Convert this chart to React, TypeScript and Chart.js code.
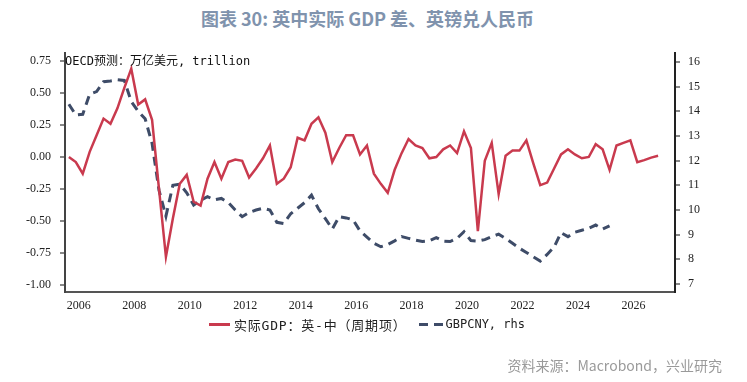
import React, { useEffect, useRef } from "react";
import { Chart, registerables } from "chart.js";

Chart.register(...registerables);

// First observation quarter of both series
const FIRST_YEAR = 2005;
const FIRST_QUARTER = 3;

// Real GDP gap UK - China (cyclical component), quarterly, left axis
const gdpGap: number[] = [
  0.0, -0.04, // 2005 Q3-Q4
  -0.13, 0.04, 0.17, 0.3, // 2006
  0.26, 0.38, 0.54, 0.69, // 2007
  0.41, 0.45, 0.29, -0.25, // 2008
  -0.78, -0.48, -0.21, -0.14, // 2009
  -0.35, -0.38, -0.17, -0.04, // 2010
  -0.17, -0.04, -0.02, -0.03, // 2011
  -0.16, -0.09, -0.01, 0.09, // 2012
  -0.21, -0.17, -0.08, 0.15, // 2013
  0.13, 0.26, 0.31, 0.19, // 2014
  -0.04, 0.07, 0.17, 0.17, // 2015
  0.02, 0.09, -0.13, -0.21, // 2016
  -0.28, -0.1, 0.03, 0.14, // 2017
  0.09, 0.07, -0.01, 0.0, // 2018
  0.06, 0.09, 0.03, 0.2, // 2019
  0.07, -0.58, -0.03, 0.11, // 2020
  -0.29, 0.01, 0.05, 0.05, // 2021
  0.13, -0.05, -0.22, -0.2, // 2022
  -0.09, 0.02, 0.06, 0.02, // 2023
  -0.01, 0.0, 0.1, 0.06, // 2024
  -0.1, 0.09, 0.11, 0.13, // 2025
  -0.04, -0.025, -0.005, 0.01, // 2026
];

// GBPCNY, quarterly, right axis
const gbpcny: number[] = [
  14.29, 13.85, // 2005 Q3-Q4
  13.88, 14.7, 14.8, 15.2, // 2006
  15.23, 15.28, 15.25, 14.4, // 2007
  14.0, 13.7, 12.7, 10.8, // 2008
  9.75, 11.0, 11.05, 10.7, // 2009
  10.2, 10.4, 10.54, 10.41, // 2010
  10.47, 10.3, 10.0, 9.73, // 2011
  9.9, 10.0, 10.07, 10.0, // 2012
  9.5, 9.45, 9.85, 10.07, // 2013
  10.3, 10.6, 10.05, 9.65, // 2014
  9.23, 9.73, 9.68, 9.6, // 2015
  9.15, 8.9, 8.65, 8.51, // 2016
  8.6, 8.75, 8.92, 8.85, // 2017
  8.78, 8.72, 8.75, 8.88, // 2018
  8.74, 8.72, 8.85, 9.12, // 2019
  8.76, 8.74, 8.8, 8.92, // 2020
  9.02, 8.85, 8.65, 8.45, // 2021
  8.28, 8.1, 7.93, 8.2, // 2022
  8.5, 9.08, 8.92, 9.1, // 2023
  9.18, 9.26, 9.39, 9.23, // 2024
  9.36, // 2025 Q1
];

const xTicks: number[] = [2006, 2008, 2010, 2012, 2014, 2016, 2018, 2020, 2022, 2024, 2026];
const leftTicks: number[] = [-1, -0.75, -0.5, -0.25, 0, 0.25, 0.5, 0.75];
const rightTicks: number[] = [7, 8, 9, 10, 11, 12, 13, 14, 15, 16];

const TITLE = "图表 30: 英中实际 GDP 差、英镑兑人民币";
const NOTE = "OECD预测：万亿美元, trillion";
const LEGEND_GDP = "实际GDP：英-中（周期项）";
const LEGEND_FX = "GBPCNY, rhs";
const SOURCE = "资料来源：Macrobond，兴业研究";

const quarterX = (i: number) => {
  const q = FIRST_QUARTER - 1 + i;
  return FIRST_YEAR + Math.floor(q / 4) + (q % 4) * 0.25 + 0.14;
};

const RED = "#c93a4e";
const NAVY = "#3e4c68";
const MONO = '"DejaVu Sans Mono", "Noto Sans CJK SC", monospace';

export default function App() {
  const ref = useRef<HTMLCanvasElement | null>(null);

  useEffect(() => {
    if (!ref.current) return;
    const chart = new Chart(ref.current, {
      type: "line",
      data: {
        datasets: [
          {
            label: LEGEND_GDP,
            data: gdpGap.map((v, i) => ({ x: quarterX(i), y: v })),
            borderColor: RED,
            borderWidth: 2.5,
            pointRadius: 0,
            tension: 0,
            yAxisID: "y",
          },
          {
            label: LEGEND_FX,
            data: gbpcny.map((v, i) => ({ x: quarterX(i), y: v })),
            borderColor: NAVY,
            borderWidth: 3,
            borderDash: [9, 6],
            pointRadius: 0,
            tension: 0,
            yAxisID: "y1",
          },
        ],
      },
      options: {
        responsive: false,
        animation: false,
        devicePixelRatio: 1,
        layout: { padding: { top: 53, left: 0, right: 0, bottom: 0 } },
        plugins: { legend: { display: false }, title: { display: false }, tooltip: { enabled: false } },
        scales: {
          x: {
            type: "linear",
            min: 2005.5,
            max: 2027.5,
            afterBuildTicks: (s: any) => {
              s.ticks = xTicks.map((v) => ({ value: v }));
            },
            afterFit: (s: any) => {
              s.height = 90;
            },
            grid: { display: true, drawOnChartArea: false, drawTicks: false },
            border: { display: true, color: "#555", width: 2 },
            ticks: {
              padding: 7,
              maxRotation: 0,
              autoSkip: false,
              color: "#222",
              font: { family: '"Liberation Serif", serif', size: 12 },
              callback: (v: any) => String(v),
            },
          },
          y: {
            position: "left",
            min: -1.055,
            max: 0.8125,
            afterBuildTicks: (s: any) => {
              s.ticks = leftTicks.map((v) => ({ value: v }));
            },
            afterFit: (s: any) => {
              s.width = 65;
            },
            grid: { drawOnChartArea: false, drawTicks: true, tickLength: 5, color: "#888", lineWidth: 2 },
            border: { display: true, color: "#444", width: 2 },
            ticks: {
              padding: 9,
              color: "#222",
              font: { family: '"Liberation Serif", serif', size: 12 },
              callback: (v: any) => Number(v).toFixed(2),
            },
          },
          y1: {
            position: "right",
            min: 6.676,
            max: 16.365,
            afterBuildTicks: (s: any) => {
              s.ticks = rightTicks.map((v) => ({ value: v }));
            },
            afterFit: (s: any) => {
              s.width = 72;
            },
            grid: { drawOnChartArea: false, drawTicks: true, tickLength: 5, color: "#888", lineWidth: 2 },
            border: { display: true, color: "#222", width: 2 },
            ticks: {
              padding: 8,
              color: "#222",
              font: { family: '"Liberation Serif", serif', size: 12 },
              callback: (v: any) => String(v),
            },
          },
        },
      },
    });
    return () => chart.destroy();
  }, []);

  return (
    <div
      style={{
        position: "absolute",
        left: 0,
        top: 0,
        width: 747,
        height: 382,
        background: "#fff",
        overflow: "hidden",
      }}
    >
      <div
        style={{
          position: "absolute",
          left: 0,
          top: 6,
          width: 735,
          textAlign: "center",
          fontFamily: '"Noto Sans CJK SC", "Noto Sans", sans-serif',
          fontWeight: 700,
          fontSize: 18,
          lineHeight: "24px",
          color: "#8093ad",
          whiteSpace: "nowrap",
        }}
      >
        {TITLE}
      </div>
      <canvas ref={ref} width={747} height={382} style={{ position: "absolute", left: 0, top: 0 }} />
      <div
        style={{
          position: "absolute",
          left: 65,
          top: 53,
          fontFamily: MONO,
          fontSize: 12,
          lineHeight: "16px",
          color: "#111",
          whiteSpace: "nowrap",
        }}
      >
        {NOTE}
      </div>
      <div
        style={{
          position: "absolute",
          left: 209,
          top: 315,
          height: 18,
          display: "flex",
          alignItems: "center",
          fontFamily: MONO,
          fontSize: 13,
          color: "#222",
          whiteSpace: "nowrap",
        }}
      >
        <span style={{ display: "inline-block", width: 21, height: 3, background: RED, marginRight: 4 }} />
        <span style={{ letterSpacing: "0.8px" }}>{LEGEND_GDP}</span>
        <span style={{ display: "inline-block", width: 9, height: 3, background: NAVY, marginLeft: 12, marginRight: 6 }} />
        <span style={{ display: "inline-block", width: 9, height: 3, background: NAVY, marginRight: 3 }} />
        <span style={{ fontSize: 12 }}>{LEGEND_FX}</span>
      </div>
      <div
        style={{
          position: "absolute",
          right: 25,
          top: 356,
          fontFamily: '"Noto Sans CJK SC", "Noto Sans", sans-serif',
          fontSize: 14,
          lineHeight: "18px",
          color: "#9a9a9a",
          whiteSpace: "nowrap",
        }}
      >
        {SOURCE}
      </div>
    </div>
  );
}
